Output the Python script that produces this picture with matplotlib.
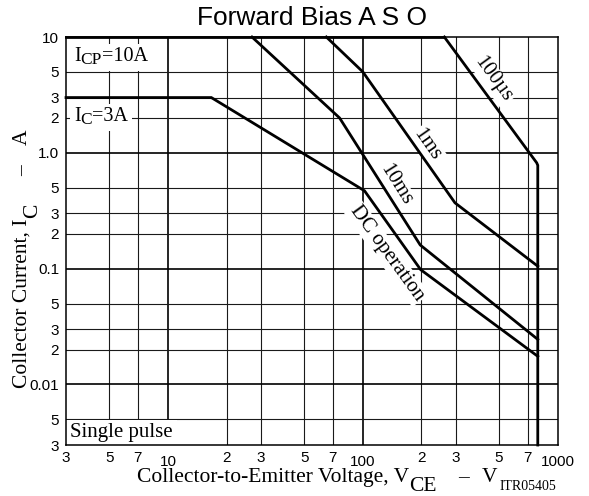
import matplotlib
matplotlib.use('Agg')
import matplotlib.pyplot as plt
from matplotlib.patches import Rectangle
from matplotlib.transforms import IdentityTransform

# safe operating area boundaries (V, A)
icp_v = [3, 262]
icp_a = [10, 10]
us100_v = [262, 780, 790, 790]
us100_a = [10, 0.82, 0.78, 0.003]
ms1_v = [65, 100, 297, 790]
ms1_a = [10, 5, 0.37, 0.105]
ms10_v = [27, 76, 197, 790]
ms10_a = [10, 2.0, 0.16, 0.0245]
dc_v = [3, 16.7, 102, 198, 790]
dc_a = [3, 3, 0.47, 0.098, 0.0175]

x_major = [10, 100, 1000]
x_major_lbl = ['10', '100', '1000']
x_minor = [3, 5, 7, 20, 30, 50, 70, 200, 300, 500, 700]
x_minor_lbl = ['3', '5', '7', '2', '3', '5', '7', '2', '3', '5', '7']
y_major = [10, 1, 0.1, 0.01]
y_major_lbl = ['10', '1.0', '0.1', '0.01']
y_minor = [5, 3, 2, 0.5, 0.3, 0.2, 0.05, 0.03, 0.02, 0.005, 0.003]
y_minor_lbl = ['5', '3', '2', '5', '3', '2', '5', '3', '2', '5', '3']

H = 496
serif = 'Liberation Serif'
sans = 'Liberation Sans'

fig = plt.figure(figsize=(5.89, 4.96), dpi=100)
ax = fig.add_axes([0.1121, 0.1028, 0.8348, 0.8226])
ax.set_xscale('log')
ax.set_yscale('log')
ax.set_xlim(3, 1000)
ax.set_ylim(0.003, 10)

# grid
for v in x_minor[1:]:
    ax.axvline(v, color='#1a1a1a', lw=0.8, zorder=1)
for v in x_major[:-1]:
    ax.axvline(v, color='black', lw=1.2, zorder=1)
for v in y_minor[:-1]:
    ax.axhline(v, color='#1a1a1a', lw=0.8, zorder=1)
for v in y_major[1:]:
    ax.axhline(v, color='black', lw=1.2, zorder=1)

ax.set_xticks(x_major)
ax.set_xticklabels(x_major_lbl)
ax.set_xticks(x_minor, minor=True)
ax.set_xticklabels(x_minor_lbl, minor=True)
ax.set_yticks(y_major)
ax.set_yticklabels(y_major_lbl)
ax.set_yticks(y_minor, minor=True)
ax.set_yticklabels(y_minor_lbl, minor=True)
ax.tick_params(axis='x', which='major', length=0, pad=7, labelsize=11)
ax.tick_params(axis='x', which='minor', length=0, pad=4, labelsize=11)
ax.tick_params(axis='y', which='both', length=0, pad=5, labelsize=11)
for lbl in ax.get_xticklabels(which='both') + ax.get_yticklabels(which='both'):
    lbl.set_fontfamily(sans)
for s in ax.spines.values():
    s.set_linewidth(1.1)

# curves
kw = dict(color='black', lw=2.0, clip_on=False, zorder=4, solid_joinstyle='miter')
ax.plot(icp_v, icp_a, **kw)
ax.plot(us100_v, us100_a, **kw)
ax.plot(ms1_v, ms1_a, **kw)
ax.plot(ms10_v, ms10_a, **kw)
ax.plot(dc_v, dc_a, **kw)

box = dict(facecolor='white', edgecolor='none', pad=1.0)
ax.text(466, 4.3, '100\u00b5s', rotation=-54, ha='center', va='center',
        family=serif, fontsize=15, bbox=box, zorder=3)
ax.text(213, 1.17, '1ms', rotation=-55, ha='center', va='center',
        family=serif, fontsize=15, bbox=box, zorder=3)
ax.text(147, 0.53, '10ms', rotation=-58, ha='center', va='center',
        family=serif, fontsize=15, bbox=box, zorder=3)
ax.text(133, 0.135, 'DC operation', rotation=-54, ha='center', va='center',
        family=serif, fontsize=15, bbox=box, zorder=3)


def chain_text(target, x, y, pieces, rotation=0, bg=False):
    # x, y: start of the baseline in image pixels (from top-left)
    r = fig.canvas.get_renderer()
    pos = 0.0
    boxes = []
    for s, size, drop, gap in pieces:
        pos += gap
        if rotation == 0:
            px, py = x + pos, H - y - drop
        else:
            px, py = x + drop, H - y + pos
        t = target.text(px, py, s, transform=IdentityTransform(), fontsize=size,
                        family=serif, rotation=rotation, rotation_mode='anchor',
                        ha='left', va='baseline', zorder=3.5)
        bb = t.get_window_extent(renderer=r)
        boxes.append(bb)
        pos += bb.width if rotation == 0 else bb.height
    if bg:
        x0 = min(b.x0 for b in boxes) - 4
        x1 = max(b.x1 for b in boxes) + 4
        y0 = min(b.y0 for b in boxes) - 3
        y1 = max(b.y1 for b in boxes) + 3
        target.add_artist(Rectangle((x0, y0), x1 - x0, y1 - y0, transform=IdentityTransform(),
                                    facecolor='white', edgecolor='none', zorder=2.5))


chain_text(ax, 74, 61, [('I', 14.5, 0, 0), ('CP', 12.5, 3, 0), ('=10A', 14.5, 0, 0)], bg=True)
chain_text(ax, 74, 121, [('I', 14.5, 0, 0), ('C', 12.5, 3, 0), ('=3A', 14.5, 0, 0)], bg=True)
chain_text(ax, 70, 437, [('Single pulse', 15, 0, 0)], bg=True)

fig.text(312 / 589, 1 - 18 / H, 'Forward Bias A S O', ha='center', va='center',
         family=sans, fontsize=19)
chain_text(fig, 137, 482, [('Collector-to-Emitter Voltage, V', 15.5, 0, 0),
                           ('CE', 15.5, 9, 0), ('\u2013', 15.5, 0, 21),
                           ('V', 15.5, 0, 13), ('ITR05405', 10, 8, 3)])
chain_text(fig, 27, 388, [('Collector Current, I', 15.5, 0, 0), ('C', 15.5, 10, 0),
                          ('\u2013', 15.5, 0, 28), ('A', 15.5, 0, 20)], rotation=90)

fig.savefig('out.png', dpi=100)
